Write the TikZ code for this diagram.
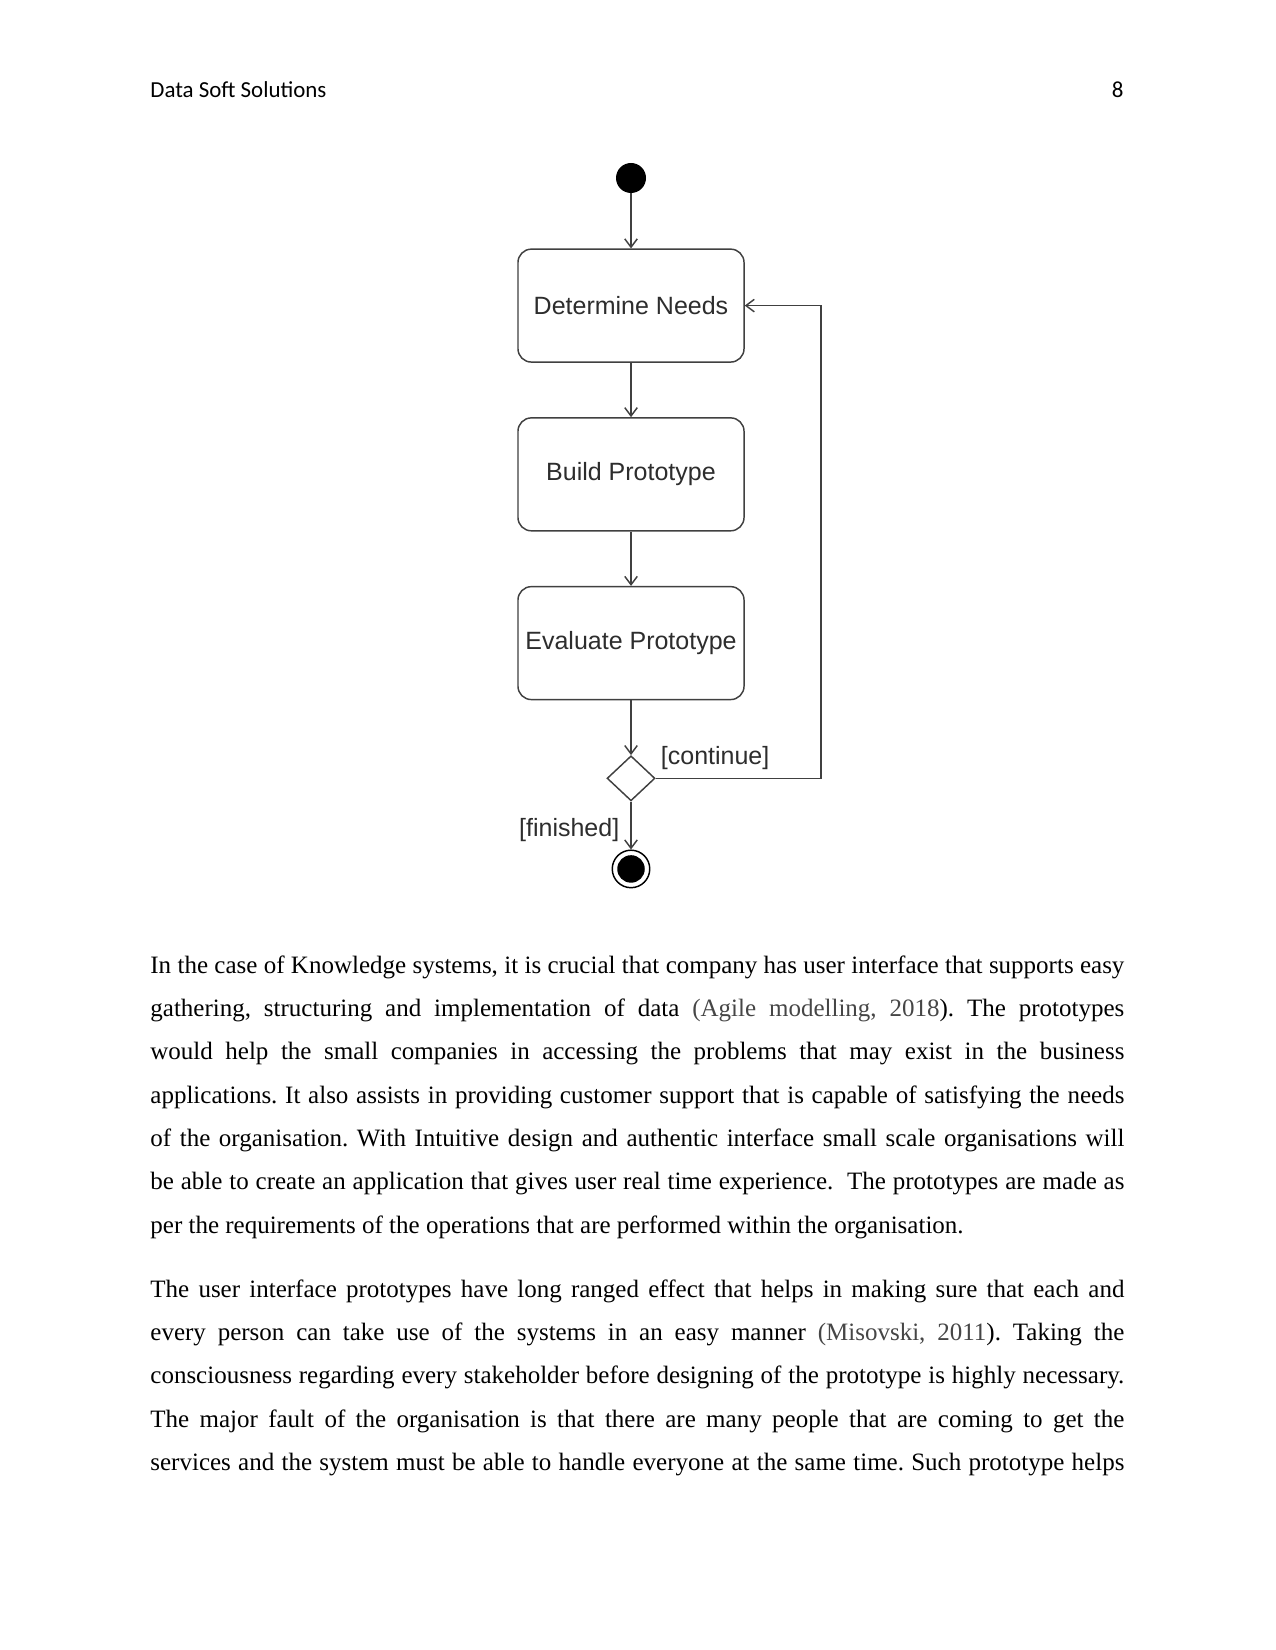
\documentclass[tikz,border=0pt]{standalone}
\usepackage{fontspec}
\setmainfont{Liberation Serif}
\newfontfamily\headfont{Carlito}
\newfontfamily\umlfont{Liberation Sans}
\usetikzlibrary{shapes,arrows.meta,positioning,calc}
\definecolor{umlline}{RGB}{64,64,64}
\definecolor{umltext}{RGB}{45,45,45}
\definecolor{citegray}{RGB}{70,70,70}
\frenchspacing

\begin{document}
\begin{tikzpicture}[x=0.48pt, y=-0.48pt, node distance=26.1pt]
  % Styles
  \tikzstyle{state} = [rectangle, draw=umlline, line width=0.7pt, rounded corners=6.4pt, minimum width=108.5pt, minimum height=54.2pt, font=\umlfont\fontsize{12}{14}\selectfont, text=umltext]
  \tikzstyle{start} = [circle, fill=black, minimum size=14.4pt, inner sep=0pt]
  \tikzstyle{stop} = [circle, draw=black, line width=0.7pt, minimum size=18pt, inner sep=0pt, path picture={\fill[black] (path picture bounding box.center) circle (6.6pt);}]
  \tikzstyle{decision} = [diamond, draw=umlline, line width=0.7pt, minimum width=23pt, minimum height=21.6pt, inner sep=0pt]
  \tikzstyle{guard} = [font=\umlfont\fontsize{12}{14}\selectfont, text=umltext, inner sep=0pt]
  \tikzstyle{arrow} = [draw=umlline, line width=0.7pt, -{Straight Barb[length=4pt,width=6pt]}]
  \tikzstyle{body} = [anchor=north west, inner sep=0pt, text width=467.5pt, align=justify, font=\fontsize{12}{20.8}\selectfont]

  \useasboundingbox (0,0) rectangle (1275,1650);
  \fill[white] (0,0) rectangle (1275,1650);

  % Header
  \node[anchor=base west, inner sep=0pt, font=\headfont\fontsize{11}{13}\selectfont] (runhead) at (150,98) {Data Soft Solutions};
  \node[anchor=base east, inner sep=0pt, font=\headfont\fontsize{11}{13}\selectfont] (pagenum) at (1124,98) {8};

  % Nodes
  \node[start] (init) at (631,178) {};
  \node[state, below=26.4pt of init] (needs) {Determine Needs};
  \node[state, below=of needs] (build) {Build Prototype};
  \node[state, below=of build] (evaluate) {Evaluate Prototype};
  \node[decision, below=26.3pt of evaluate] (choice) {};
  \node[stop, below=23pt of choice] (final) {};
  \coordinate[right=36.5pt of needs.east] (back);

  % Edges
  \path[arrow] (init) -- (needs);
  \path[arrow] (needs) -- (build);
  \path[arrow] (build) -- (evaluate);
  \path[arrow] (evaluate) -- (choice);
  \path[arrow] (choice) -- node[guard, left=5.3pt, pos=0.6] {[finished]} (final);
  \path[arrow] (choice.east) -| node[guard, above=3.8pt, pos=0.18] {[continue]} (back) -- (needs.east);

  % Text
  \node[body] (para1) at (150,955) {In the case of Knowledge systems, it is crucial that company has user interface that supports easy\linebreak
gathering, structuring and implementation of data {\color{citegray}(Agile modelling, 2018}). The prototypes\linebreak
would help the small companies in accessing the problems that may exist in the business\linebreak
applications. It also assists in providing customer support that is capable of satisfying the needs\linebreak
of the organisation. With Intuitive design and authentic interface small scale organisations will\linebreak
be able to create an application that gives user real time experience.\ \ The prototypes are made as\linebreak
per the requirements of the operations that are performed within the organisation.};
  \node[body] (para2) at (150,1279) {The user interface prototypes have long ranged effect that helps in making sure that each and\linebreak
every person can take use of the systems in an easy manner {\color{citegray}(Misovski, 2011}). Taking the\linebreak
consciousness regarding every stakeholder before designing of the prototype is highly necessary.\linebreak
The major fault of the organisation is that there are many people that are coming to get the\linebreak
services and the system must be able to handle everyone at the same time. Such prototype helps\parfillskip=0pt\par};

\end{tikzpicture}
\end{document}
